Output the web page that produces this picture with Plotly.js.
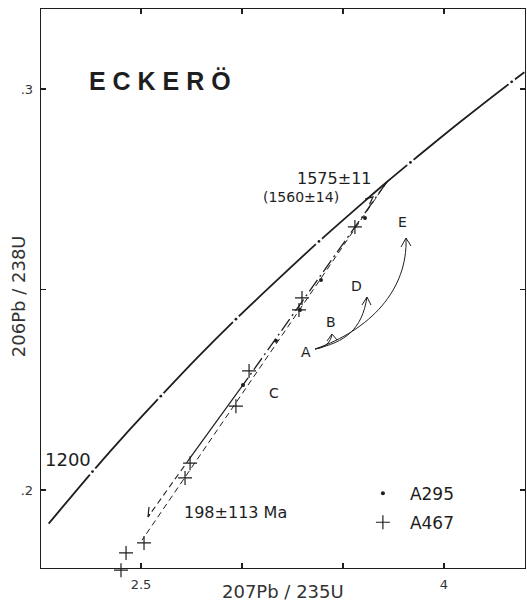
<!DOCTYPE html>
<html><head><meta charset="utf-8">
<script src="https://cdn.plot.ly/plotly-3.0.1.min.js"></script>
<style>html,body{margin:0;padding:0;background:#fff}#chart{width:527px;height:605px}</style>
</head><body><div id="chart"></div>
<script>
// Concordia curve read at ages (Ma): 207Pb/235U vs 206Pb/238U
const concordiaAge = [1130,1150,1200,1250,1300,1350,1400,1450,1500,1550,1575,1600,1650,1700,1712];
const concordiaX = [2.043,2.104,2.260,2.425,2.598,2.779,2.970,3.171,3.381,3.602,3.717,3.834,4.078,4.335,4.398];
const concordiaY = [0.1916,0.1953,0.2046,0.2140,0.2234,0.2330,0.2426,0.2522,0.2620,0.2718,0.2768,0.2817,0.2917,0.3018,0.3042];
// 100 Ma age marks on the concordia
const markAge = [1200,1300,1400,1500,1600,1700];
const markX = [2.260,2.598,2.970,3.381,3.834,4.335];
const markY = [0.2046,0.2234,0.2426,0.2620,0.2817,0.3018];
// Sample A295 (dots)
const a295X = [3.609,3.391,3.287,3.168,3.005];
const a295Y = [0.2678,0.2524,0.2449,0.2372,0.2262];
// Sample A467 (crosses)
const a467X = [3.559,3.297,3.282,3.035,2.970,2.743,2.718,2.515,2.426,2.401];
const a467Y = [0.2656,0.2479,0.2449,0.2297,0.2209,0.2067,0.2030,0.1868,0.1843,0.1800];
// Discordia lines
const disc1DashDotX = [3.717,3.005], disc1DashDotY = [0.2768,0.2262];
const disc1SolidX = [3.005,2.743], disc1SolidY = [0.2262,0.2080];
const disc1DashX = [2.743,2.535], disc1DashY = [0.2080,0.1933];
const disc2X = [3.717,2.505], disc2Y = [0.2768,0.1875];

const FONT = 'DejaVu Sans, sans-serif';
const INK = '#1e1e1e';

const traces = [
  {x: concordiaX, y: concordiaY, mode:'lines', line:{color:INK, width:1.8, shape:'spline', smoothing:0.8}, showlegend:false, hoverinfo:'skip'},
  {x: markX, y: markY, mode:'markers', marker:{symbol:'circle', size:8, color:'#fff'}, showlegend:false, hoverinfo:'skip'},
  {x: markX, y: markY, mode:'markers', marker:{symbol:'circle', size:2.8, color:INK}, showlegend:false, hoverinfo:'skip'},
  {x: disc1DashDotX, y: disc1DashDotY, mode:'lines', line:{color:INK, width:1.3, dash:'14px,4px,2px,4px'}, showlegend:false, hoverinfo:'skip'},
  {x: disc1SolidX, y: disc1SolidY, mode:'lines', line:{color:INK, width:1.2}, showlegend:false, hoverinfo:'skip'},
  {x: disc1DashX, y: disc1DashY, mode:'lines', line:{color:INK, width:1.1, dash:'6px,4px'}, showlegend:false, hoverinfo:'skip'},
  {x: disc2X, y: disc2Y, mode:'lines', line:{color:INK, width:1.0, dash:'6px,4px'}, showlegend:false, hoverinfo:'skip'},
  {x: a295X, y: a295Y, name:'A295', mode:'markers', marker:{symbol:'circle', size:4, color:INK}, cliponaxis:false, legendgroup:'a', hoverinfo:'skip'},
  {x: a467X, y: a467Y, yaxis:'y2', name:'A467', mode:'markers', marker:{symbol:'cross-thin-open', size:10, color:INK, line:{width:1.2, color:INK}}, cliponaxis:false, legendgroup:'b', hoverinfo:'skip'}
];

const bez = (p0,p1,p2,p3) => `M ${p0[0]},${p0[1]} C ${p1[0]},${p1[1]} ${p2[0]},${p2[1]} ${p3[0]},${p3[1]}`;
const poly = pts => 'M ' + pts.map(p => p[0]+','+p[1]).join(' L ');
const curveStyle = {color:INK, width:1};
const shapes = [
  {type:'path', xref:'x', yref:'y', path: bez([3.3614,0.23516],[3.4109,0.23541],[3.4406,0.23691],[3.4455,0.2389]), line:curveStyle},
  {type:'path', xref:'x', yref:'y', path: bez([3.3614,0.23516],[3.5099,0.23691],[3.5941,0.2399],[3.6188,0.24813]), line:curveStyle},
  {type:'path', xref:'x', yref:'y', path: bez([3.3614,0.23516],[3.6337,0.2399],[3.8218,0.24988],[3.8119,0.26284]), line:curveStyle},
  {type:'path', xref:'x', yref:'y', path: poly([[3.4208,0.23716],[3.4455,0.2389],[3.4703,0.23741]]), line:curveStyle},
  {type:'path', xref:'x', yref:'y', path: poly([[3.5941,0.24613],[3.6188,0.24813],[3.6386,0.24613]]), line:curveStyle},
  {type:'path', xref:'x', yref:'y', path: poly([[3.7871,0.2606],[3.8119,0.26284],[3.8366,0.26085]]), line:curveStyle},
  {type:'path', xref:'x', yref:'y', path: poly([[2.5396,0.19576],[2.5347,0.19327],[2.5446,0.19401]]), line:{color:INK, width:1.2}},
  {type:'path', xref:'x', yref:'y', path: poly([[3.6099,0.27259],[3.6485,0.27307],[3.6312,0.27127]]), line:{color:INK, width:1.2}}
];

const ann = (text, x, y, size, extra) => Object.assign({text, x, y, xref:'x', yref:'y', showarrow:false, xanchor:'center', yanchor:'middle', font:{family:FONT, size, color:INK}}, extra||{});
const annotations = [
  ann('<b>E C K E R Ö</b>', 2.5965, 0.3021, 25, {font:{family:'Liberation Sans, Arial, sans-serif', size:25, color:INK}}),
  ann('1575±11', 3.4554, 0.2778, 16),
  ann('(1560±14)', 3.292, 0.2731, 14),
  ann('E', 3.797, 0.26683, 14),
  ann('D', 3.569, 0.25087, 14),
  ann('B', 3.4406, 0.2419, 14),
  ann('A', 3.3168, 0.23441, 14),
  ann('C', 3.1584, 0.2242, 14),
  ann('1200', 2.1411, 0.20773, 18),
  ann('198±113 Ma', 2.9703, 0.19439, 16),
  // axis titles
  {text:'207Pb / 235U', xref:'paper', yref:'paper', x:0.5, y:-0.0355, xanchor:'center', yanchor:'middle', showarrow:false, font:{family:FONT, size:18, color:'#333'}},
  {text:'206Pb / 238U', xref:'paper', yref:'paper', x:-0.0475, y:0.49, xanchor:'center', yanchor:'middle', textangle:-90, showarrow:false, font:{family:FONT, size:18, color:'#333'}}
];

const axisCommon = {
  showgrid:false, zeroline:false, showline:true, linecolor:INK, linewidth:1.3, mirror:'ticks',
  ticks:'inside', ticklen:5, tickwidth:1.2, tickcolor:INK,
  tickfont:{family:FONT, size:13, color:'#333'}
};
const layout = {
  width:527, height:605,
  margin:{l:41, r:2, t:9, b:33},
  paper_bgcolor:'#fff', plot_bgcolor:'rgba(0,0,0,0)',
  xaxis: Object.assign({}, axisCommon, {
    range:[2.005,4.401], tickvals:[2.5,3,3.5,4], ticktext:['2.5','','','4'], ticklabelstandoff:4
  }),
  yaxis: Object.assign({}, axisCommon, {
    domain:[0.0071,1],
    range:[0.18055,0.31995], tickvals:[0.2,0.25,0.3], ticktext:['.2','','.3'], ticklabelstandoff:4
  }),
  yaxis2: {domain:[0,1], range:[0.17955,0.31995], anchor:'x', visible:false, showgrid:false, zeroline:false},
  showlegend:true,
  legend:{x:0.6506, y:0.1712, xanchor:'left', yanchor:'top', itemwidth:44, font:{family:FONT, size:17, color:INK}, bgcolor:'rgba(0,0,0,0)', tracegroupgap:4},
  shapes, annotations
};
Plotly.newPlot('chart', traces, layout, {displayModeBar:false, staticPlot:true});
</script></body></html>
